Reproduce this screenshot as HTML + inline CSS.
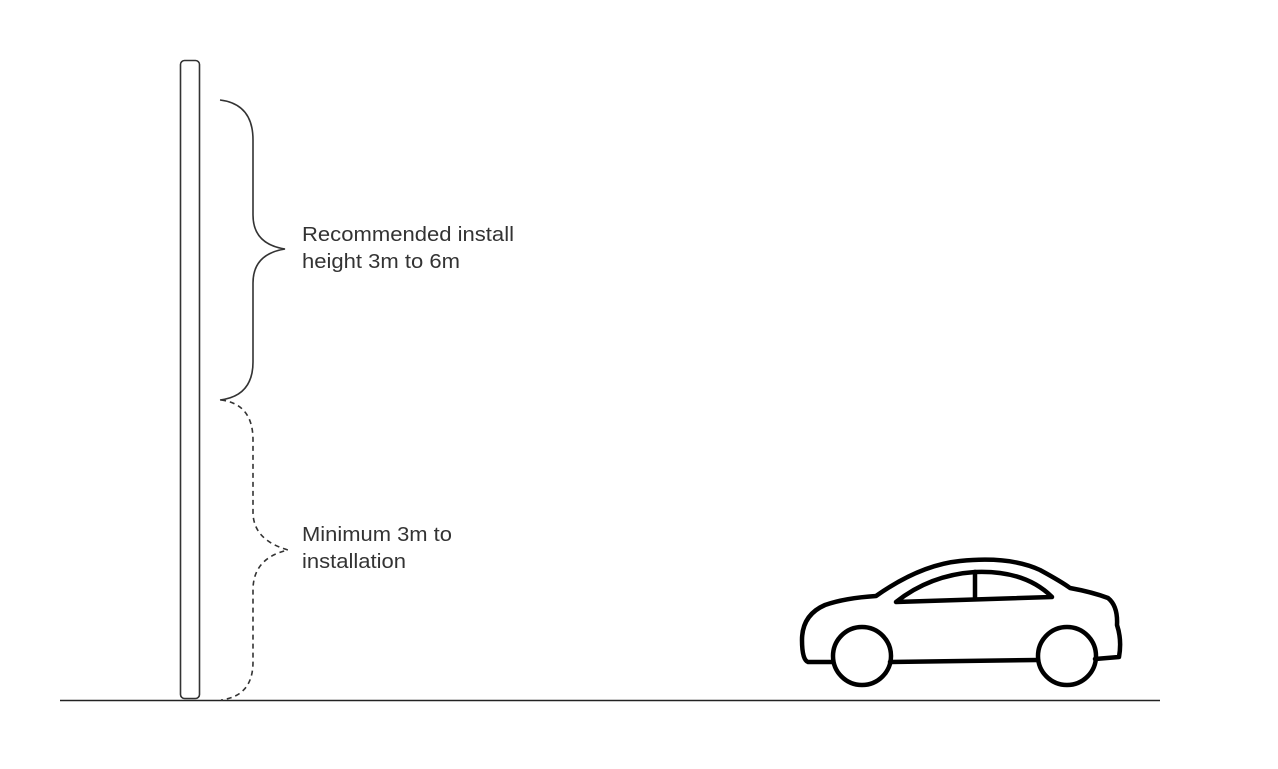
<!DOCTYPE html>
<html><head><style>
html,body{margin:0;padding:0;background:#fff;}
svg{display:block;}
text{font-family:"Liberation Sans",sans-serif;font-size:20px;fill:#333;}
</style></head><body>
<svg width="1278" height="769" viewBox="0 0 1278 769" xmlns="http://www.w3.org/2000/svg">
<rect x="0" y="0" width="1278" height="769" fill="#fff"/>
<line x1="60" y1="700.5" x2="1160" y2="700.5" stroke="#222" stroke-width="1.6"/>
<rect x="180.5" y="60.5" width="19" height="638" rx="4" fill="none" stroke="#333" stroke-width="1.6"/>
<path d="M220 100 Q253 104 253 140 L253 215 Q253 244 285 249 Q253 254 253 283 L253 362 Q253 396 220 400" fill="none" stroke="#333" stroke-width="1.6"/>
<path d="M221 400 Q253 404 253 440 L253 512 Q253 540 288 550 Q253 558 253 590 L253 662 Q253 696 221 700" fill="none" stroke="#333" stroke-width="1.6" stroke-dasharray="5,4"/>
<text x="302" y="241" textLength="212" lengthAdjust="spacingAndGlyphs">Recommended install</text>
<text x="302" y="268" textLength="158" lengthAdjust="spacingAndGlyphs">height 3m to 6m</text>
<text x="302" y="541" textLength="150" lengthAdjust="spacingAndGlyphs">Minimum 3m to</text>
<text x="302" y="568" textLength="104" lengthAdjust="spacingAndGlyphs">installation</text>
<g fill="none" stroke="#000" stroke-width="4.5" stroke-linejoin="round" stroke-linecap="round">
<path d="M833 662 L808 662 Q802 660 802 640 Q802 615 825 605 Q845 598 876 596 Q920 565 960 561 Q1010 556 1040 570 Q1062 582 1070 588 Q1092 592 1108 598 Q1118 606 1117 625 Q1122 640 1119 657 L1095 659"/>
<path d="M890 662 L1038 660"/>
<path d="M896 602 Q930 575 975 572 Q1025 570 1052 597 Z"/>
<line x1="975" y1="572" x2="975" y2="598"/>
<circle cx="862" cy="656" r="29"/>
<circle cx="1067" cy="656" r="29"/>
</g>
</svg>
</body></html>
